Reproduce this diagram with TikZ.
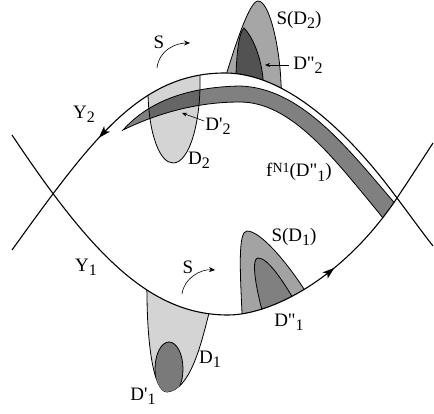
\documentclass[tikz,border=0pt]{standalone}
\usepackage{fontspec}
\setmainfont{Liberation Serif}
\usetikzlibrary{arrows.meta,decorations.markings}

\newcommand\low[1]{\raisebox{-0.5ex}{\fontsize{16}{16}\selectfont #1}}
\newcommand\sprime{\textquotesingle}
\newcommand\dprime{\textquotedbl}

\begin{document}
\begin{tikzpicture}[
    x=1pt, y=-1pt,
    every node/.style={font=\fontsize{19}{21}\selectfont, inner sep=0pt},
    curve/.style={line width=1.1pt},
    outline/.style={draw, line width=0.8pt},
    pointer/.style={-{Stealth[length=5pt, width=4pt]}, line width=0.6pt},
    turn/.style={-{Stealth[length=6pt, width=5pt]}, line width=0.6pt},
    flowmark/.style={postaction={decorate}, decoration={markings, mark=at position #1}},
    upper curve/.style={insert path={(12,250) .. controls (92,139) and (140,73) .. (225,73)
        .. controls (285,73) and (347,130) .. (397,198) .. controls (412,218) and (422,232) .. (433,246)}},
    lower curve/.style={insert path={(12,135) .. controls (92,255) and (150,315) .. (228,315)
        .. controls (270,315) and (342,280) .. (397,198) .. controls (409,180) and (422,160) .. (433,143)}},
    band/.style={insert path={(123,130) .. controls (150,100) and (190,87) .. (240,86)
        .. controls (300,88) and (345,145) .. (392,200) -- (403,213) -- (389,226) -- (379,213)
        .. controls (335,160) and (292,102) .. (240,102) .. controls (190,102) and (150,117) .. (123,130) -- cycle}},
    dtwo/.style={insert path={(147,80) -- (148,94) .. controls (149,135) and (160,163) .. (173,163)
        .. controls (190,163) and (201,120) .. (200,77) -- (200,65) -- cycle}},
    sdtwo/.style={insert path={(226,86) -- (227,72) .. controls (237,40) and (250,1) .. (258,1)
        .. controls (270,1) and (280,50) .. (281,84) -- (282,95) -- cycle}},
    ddtwo/.style={insert path={(235,86) -- (236,74) .. controls (237,50) and (239,33) .. (244,28)
        .. controls (255,40) and (261,60) .. (263,78) -- (263,90) -- cycle}},
    sdone/.style={insert path={(241,322) -- (242,313) .. controls (240,270) and (238,231) .. (247,231)
        .. controls (260,231) and (285,260) .. (304,289) -- (310,298) -- cycle}},
    ddone/.style={insert path={(262,320) -- (262,310) .. controls (254,280) and (252,258) .. (258,258)
        .. controls (268,258) and (282,280) .. (293,298) -- (300,306) -- cycle}},
    done/.style={insert path={(146,284) -- (147,293) .. controls (147,340) and (153,392) .. (167,392)
        .. controls (190,390) and (201,345) .. (209,313) -- (212,304) -- cycle}}
]
\useasboundingbox (0,0) rectangle (434,414);

\begin{scope}
  \clip[upper curve] -- (434,414) -- (0,414) -- cycle;
  \fill[black!17, dtwo];
\end{scope}
\begin{scope}
  \clip[lower curve] -- (434,0) -- (0,0) -- cycle;
  \fill[black!50, band];
  \clip[dtwo];
  \fill[black!60, band];
\end{scope}
\begin{scope}
  \clip[upper curve] -- (434,414) -- (0,414) -- cycle;
  \path[outline, dtwo];
\end{scope}
\begin{scope}
  \clip[lower curve] -- (434,0) -- (0,0) -- cycle;
  \path[outline, band];
\end{scope}

\begin{scope}
  \clip[upper curve] -- (434,0) -- (0,0) -- cycle;
  \path[outline, fill=black!35, sdtwo];
  \path[outline, fill=black!68, ddtwo];
\end{scope}

\begin{scope}
  \clip[lower curve] -- (434,0) -- (0,0) -- cycle;
  \path[outline, fill=black!36, sdone];
  \path[outline, fill=black!50, ddone];
\end{scope}
\begin{scope}
  \clip[lower curve] -- (434,414) -- (0,414) -- cycle;
  \path[outline, fill=black!17, done];
  \clip[done];
  \path[outline, fill=black!52] (169,369) ellipse [x radius=14pt, y radius=27pt];
\end{scope}

\draw[curve, flowmark=0.25 with {\arrowreversed{Stealth[length=12pt, width=8pt, inset=3pt]}}, upper curve];
\draw[curve, flowmark=0.72 with {\arrow{Stealth[length=12pt, width=8pt, inset=3pt]}}, lower curve];

\node (sdtwolabel) at (299,20) {S(D\low{2})};
\node (ddtwolabel) at (308,65) {D\dprime\low{2}};
\node (ytwo) at (84,114) {Y\low{2}};
\node (dptwo) at (218,126) {D\sprime\low{2}};
\node (dtwolabel) at (199,160) {D\low{2}};
\node (image) at (299,172) {f\raisebox{0.55ex}{\fontsize{14}{14}\selectfont N1}(D\dprime\low{1})};
\node (sdonelabel) at (294,237) {S(D\low{1})};
\node (yone) at (86,267) {Y\low{1}};
\node (supper) at (159,42) {S};
\node (slower) at (188,267) {S};
\node (ddonelabel) at (289,322) {D\dprime\low{1}};
\node (donelabel) at (210,359) {D\low{1}};
\node (dpone) at (143,396) {D\sprime\low{1}};

\coordinate (ddtwotip) at (265,65);
\coordinate (dptwotip) at (182,113);
\coordinate (sfromup) at (157,68);
\coordinate (stoup) at (190,43);
\coordinate (sfromlow) at (182,294);
\coordinate (stolow) at (215,270);

\draw[pointer, shorten <=4pt] (ddtwolabel) -- (ddtwotip);
\draw[pointer, shorten <=1pt] (dptwo) -- (dptwotip);
\draw[turn] (sfromup) .. controls +(2,-18) and +(-14,0) .. (stoup);
\draw[turn] (sfromlow) .. controls +(2,-16) and +(-14,-1) .. (stolow);
\end{tikzpicture}
\end{document}
